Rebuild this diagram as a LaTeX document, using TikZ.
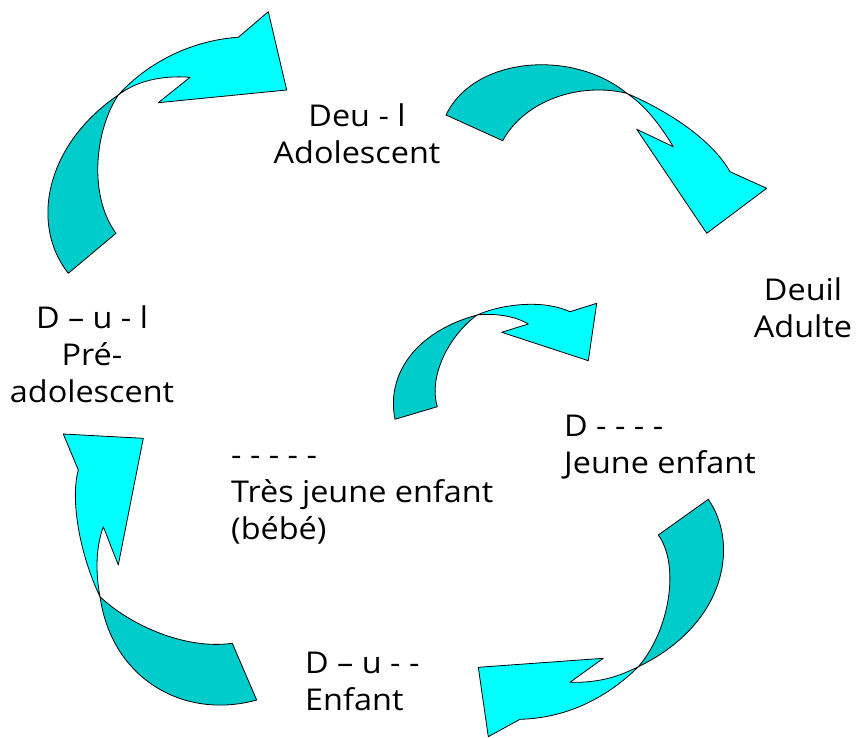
\documentclass[tikz,border=0pt]{standalone}
\usepackage{fontspec}
\newfontfamily\lblfont[FakeStretch=1.08]{Open Sans}
\definecolor{darkc}{RGB}{0,204,204}
\definecolor{lightc}{RGB}{0,255,255}
\tikzset{
  darkpart/.style={fill=darkc, draw=black, line width=0.8pt, line join=round},
  lightpart/.style={fill=lightc, draw=black, line width=0.8pt, line join=round},
  lbl/.style={inner sep=0pt, font=\lblfont\fontsize{30}{37}\selectfont}
}
\begin{document}
\begin{tikzpicture}[x=1pt,y=-1pt]
\useasboundingbox (0,0) rectangle (857,738);

% Arrow 1 (top-left)
\draw[darkpart] (68.3,273.3) .. controls (30,225) and (45,145) .. (118.3,95)
  .. controls (95,130) and (88,195) .. (116,233.3) -- cycle;
\draw[lightpart] (118.3,95) .. controls (150,60) and (195,40) .. (238.3,37.3)
  -- (268.3,11.7) -- (286.7,90) -- (158.3,102.7) -- (190,77.3)
  .. controls (160,75) and (135,82) .. (118.3,95) -- cycle;

% Arrow 2 (top-right)
\draw[darkpart] (446,115) .. controls (475,55) and (575,50) .. (626.7,93.3)
  .. controls (580,82) and (525,100) .. (502.7,140.7) -- cycle;
\draw[lightpart] (626.7,93.3) .. controls (670,112) and (712,140) .. (730,171.7)
  -- (766.7,188.3) -- (706.7,233.3) -- (636.7,129.3) -- (673.3,146.7)
  .. controls (660,125) and (645,105) .. (626.7,93.3) -- cycle;

% Arrow 3 (centre)
\draw[darkpart] (395,419.3) .. controls (386,375) and (415,332) .. (477,315)
  .. controls (450,335) and (428,375) .. (437.3,406.7) -- cycle;
\draw[lightpart] (477,315) .. controls (505,303) and (545,300) .. (570,311.7)
  -- (596.7,303.3) -- (588.3,360.7) -- (501.7,332.3) -- (528.3,324)
  .. controls (515,316) and (495,313) .. (477,315) -- cycle;

% Arrow 4 (bottom-right)
\draw[darkpart] (708.3,499.3) .. controls (740,545) and (725,625) .. (638.3,666.7)
  .. controls (670,630) and (680,565) .. (658.3,535) -- cycle;
\draw[lightpart] (638.3,666.7) .. controls (610,695) and (570,718) .. (520,719.3)
  -- (488.3,736.7) -- (478.3,667.3) -- (603.3,658.3) -- (570,682.3)
  .. controls (600,683) and (620,676) .. (638.3,666.7) -- cycle;

% Arrow 5 (bottom-left)
\draw[darkpart] (256.7,700) .. controls (185,720) and (112,680) .. (100,596.7)
  .. controls (130,625) and (185,650) .. (232.3,643.3) -- cycle;
\draw[lightpart] (100,596.7) .. controls (80,555) and (70,500) .. (78.3,470)
  -- (63.3,434) -- (143.3,438.3) -- (118.3,565) -- (103.3,526.7)
  .. controls (95,550) and (96,575) .. (100,596.7) -- cycle;

% Labels
\node[lbl, anchor=base] (adol) at (357,126.7) {\begin{tabular}[t]{@{}c@{}}Deu - l\\Adolescent\end{tabular}};
\node[lbl, anchor=base] (adulte) at (803,300) {\begin{tabular}[t]{@{}c@{}}Deuil\\Adulte\end{tabular}};
\node[lbl, anchor=base] (preado) at (92,328.3) {\begin{tabular}[t]{@{}c@{}}D – u - l\\Pré-\\adolescent\end{tabular}};
\node[lbl, anchor=base west] (bebe) at (231,465) {\begin{tabular}[t]{@{}l@{}}- - - - -\\Très jeune enfant\\(bébé)\end{tabular}};
\node[lbl, anchor=base west] (jeune) at (564,436.7) {\begin{tabular}[t]{@{}l@{}}D - - - -\\Jeune enfant\end{tabular}};
\node[lbl, anchor=base west] (enfant) at (305,673.3) {\begin{tabular}[t]{@{}l@{}}D – u - -\\Enfant\end{tabular}};
\end{tikzpicture}
\end{document}
